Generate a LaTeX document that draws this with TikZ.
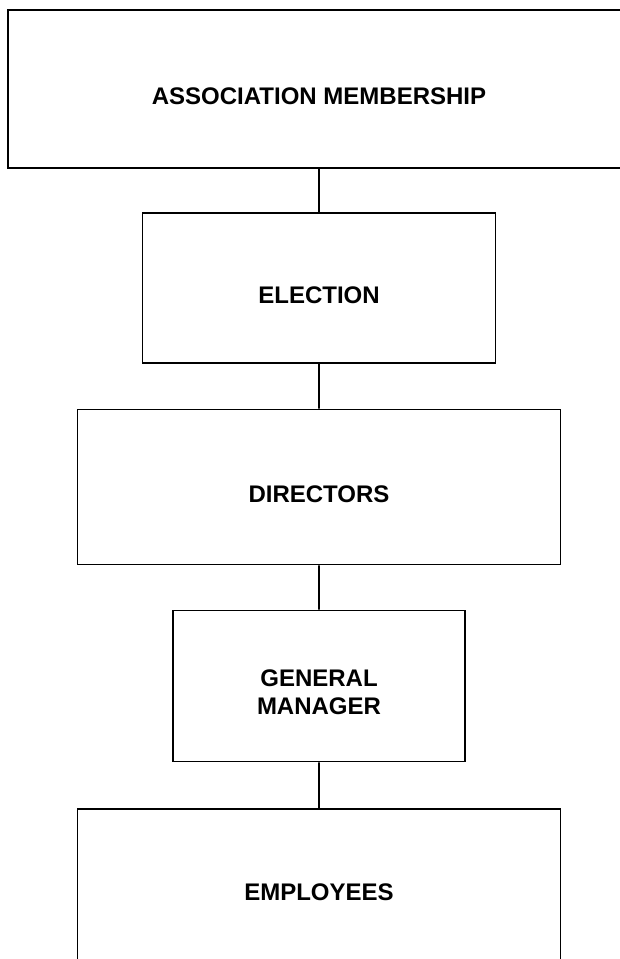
\documentclass[tikz,border=0pt]{standalone}
\usepackage{fontspec}
\setmainfont{Liberation Sans}

\tikzstyle{block} = [draw, line width=1.6pt, align=center, font=\fontsize{24}{28}\selectfont\bfseries, text height=30pt, text depth=0pt]

\begin{document}
\begin{tikzpicture}[x=1pt, y=1pt, grow=down, level distance=199pt,
    edge from parent/.style={draw, line width=1.6pt}]
\useasboundingbox (0,0) rectangle (620,-959);
\node[block, minimum width=622pt, minimum height=158pt] (members) at (319,-89) {ASSOCIATION MEMBERSHIP}
    child {
        node[block, minimum width=353pt, minimum height=150pt] (election) {ELECTION}
        child {
            node[block, minimum width=483pt, minimum height=155pt] (directors) {DIRECTORS}
            child {
                node[block, minimum width=292pt, minimum height=151pt, text height=56pt] (manager) {GENERAL\\MANAGER}
                child {
                    node[block, minimum width=483pt, minimum height=152pt] (employees) {EMPLOYEES}
                }
            }
        }
    };
\end{tikzpicture}
\end{document}
